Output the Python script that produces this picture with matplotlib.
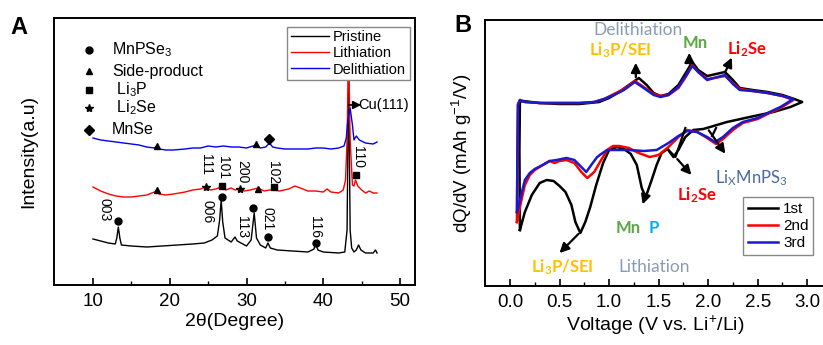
import numpy as np
import matplotlib
matplotlib.use('Agg')
import matplotlib.pyplot as plt

plt.rcParams['font.family'] = ['Liberation Sans', 'DejaVu Sans']
plt.rcParams['mathtext.default'] = 'regular'

# ---------------- Panel A: XRD ----------------
tt_pristine = [10, 11, 12, 12.9, 13.1, 13.3, 13.5, 13.7, 15, 17, 19, 21, 23, 24.5, 25.5, 26.2,
               26.5, 26.7, 26.9, 27.2, 28, 28.5, 28.8, 30, 30.6, 31.0, 31.3, 31.8, 32.5, 32.8,
               33.1, 34, 36, 38, 38.8, 39.0, 39.3, 40, 42, 42.8, 43.1, 43.3, 43.5, 43.7, 44.0,
               44.3, 44.6, 44.9, 45.5, 46.5, 46.8, 47]
I_pristine = [46, 44, 42, 41, 47, 58, 47, 40, 39, 38, 39, 40, 41, 42, 45, 49,
              65, 85, 63, 47, 43, 48, 44, 39, 45, 72, 47, 40, 37, 42,
              37, 35, 34, 33, 36, 42, 35, 33, 32, 33, 55, 215, 55, 37, 33,
              35, 40, 35, 32, 32, 35, 32]

tt_lith = [10, 11, 12, 13, 14, 15, 16, 17, 18, 18.3, 18.6, 19.5, 20.5, 22, 23, 24, 24.7, 25.3,
           26, 26.7, 27.3, 28, 28.5, 29.1, 29.7, 30.5, 31.5, 32.3, 33, 33.6, 34.3, 35.5, 36.3,
           37, 38, 39, 40, 40.5, 41, 42, 42.6, 42.9, 43.1, 43.3, 43.5, 43.8, 44.0, 44.2, 44.5,
           45, 45.5, 46, 46.5, 47]
I_lith = [98, 94, 91, 89, 88, 88, 89, 90, 93, 95, 91, 90, 91, 93, 95, 96, 98, 95,
          96, 98, 95, 97, 95, 96, 94, 95, 97, 94, 95, 95, 94, 96, 99,
          97, 94, 94, 93, 96, 93, 92, 95, 105, 145, 240, 145, 100, 99, 105, 99,
          95, 92, 94, 92, 92]

tt_delith = [10, 11, 12, 13, 14, 15, 16, 17, 18, 18.3, 18.6, 19.5, 20.5, 22, 23, 24, 25, 26, 27,
             28, 29, 30, 31.3, 31.8, 32.5, 33, 33.4, 34, 35, 36, 37, 38, 39, 40, 41, 42, 42.7,
             43.0, 43.2, 43.5, 43.8, 44.0, 44.3, 44.7, 45.5, 46.5, 47]
I_delith = [147, 145, 144, 143, 142, 141, 140, 138, 137, 139, 136, 135, 135, 136, 137, 137, 139,
            138, 139, 138, 138, 137, 140, 137, 138, 142, 138, 137, 136, 136, 136, 136, 137, 137,
            136, 137, 139, 147, 165, 177, 160, 145, 149, 145, 142, 141, 143]

# phase markers (2theta, intensity)
mnpse3_pts = [(13.3, 64), (26.75, 88), (30.9, 77), (32.75, 48), (39.0, 42)]
side_pts = [(18.3, 95), (31.5, 96), (18.4, 139), (31.2, 141)]
li3p_pts = [(26.75, 99), (33.6, 98), (44.2, 110)]
li2se_pts = [(24.7, 98), (29.1, 96)]
mnse_pts = [(32.9, 146)]

hkl_labels = ['003', '006', '113', '021', '116', '111', '101', '200', '102', '110']
hkl_x = [11.56, 24.98, 29.41, 32.67, 38.93, 24.72, 26.94, 29.41, 33.45, 44.53]
hkl_y = [75, 73, 58, 66, 58, 121, 117, 113, 112, 128]

phase_names = ['MnPSe$_3$', 'Side-product', ' Li$_3$P', ' Li$_2$Se', 'MnSe']
phase_marks = ['o', '^', 's', '*', 'D']

# ---------------- Panel B: dQ/dV ----------------
V1_ch = [0.1, 0.095, 0.1, 0.13, 0.3, 0.5, 0.7, 0.9, 1.0, 1.1, 1.2, 1.3, 1.38, 1.45, 1.52, 1.6,
         1.7, 1.78, 1.84, 1.9, 1.99, 2.08, 2.17, 2.25, 2.32, 2.45, 2.6, 2.75, 2.87, 2.95]
q1_ch = [-120, -40, 8, 9, 7, 6, 6, 8, 12, 18, 25, 32, 25, 17, 14, 16,
         25, 38, 48, 40, 34, 36, 38, 30, 22, 20, 18, 15, 11, 8]
V1_dis = [2.95, 2.83, 2.66, 2.42, 2.19, 2.02, 1.95, 1.85, 1.77, 1.7, 1.65, 1.59, 1.53, 1.48,
          1.43, 1.37, 1.33, 1.28, 1.22, 1.15, 1.08, 1.0, 0.94, 0.87, 0.81, 0.76, 0.71, 0.66,
          0.62, 0.56, 0.5, 0.44, 0.37, 0.3, 0.22, 0.15, 0.1]
q1_dis = [8, 3, -2, -7, -12, -17, -19, -20, -27, -40, -47, -39, -43, -55,
          -70, -87, -78, -55, -44, -39, -37, -40, -53, -75, -97, -112, -123, -112,
          -95, -82, -76, -71, -70, -73, -85, -102, -120]

V2_ch = [0.07, 0.075, 0.08, 0.1, 0.15, 0.3, 0.5, 0.7, 0.85, 0.95, 1.05, 1.15, 1.26, 1.35, 1.45,
         1.52, 1.6, 1.7, 1.78, 1.84, 1.9, 1.99, 2.06, 2.17, 2.25, 2.32, 2.45, 2.6, 2.75, 2.86]
q2_ch = [-112, -40, 6, 10, 8, 7, 7, 7, 8, 11, 16, 21, 29, 23, 16,
         14, 15, 22, 34, 45, 38, 31, 32, 34, 27, 21, 19, 17, 14, 10]
V2_dis = [2.86, 2.73, 2.6, 2.5, 2.35, 2.25, 2.15, 2.08, 1.99, 1.89, 1.79, 1.7, 1.6, 1.5, 1.41,
          1.3, 1.2, 1.1, 1.04, 0.98, 0.92, 0.85, 0.78, 0.72, 0.65, 0.57, 0.5, 0.45, 0.4, 0.33,
          0.25, 0.2, 0.15, 0.12, 0.09, 0.07]
q2_dis = [10, 2, -4, -9, -13, -20, -29, -34, -28, -22, -20, -27, -37, -45, -47,
          -43, -38, -36, -36, -40, -50, -62, -68, -62, -53, -50, -51, -53, -51, -55,
          -60, -65, -75, -88, -102, -112]

V3_ch = [0.07, 0.075, 0.08, 0.1, 0.15, 0.3, 0.5, 0.7, 0.85, 0.95, 1.05, 1.15, 1.26, 1.35, 1.45,
         1.52, 1.6, 1.7, 1.78, 1.84, 1.9, 1.99, 2.06, 2.17, 2.25, 2.32, 2.45, 2.6, 2.75, 2.86]
q3_ch = [-102, -40, 5, 10, 8, 7, 7, 7, 8, 11, 15, 20, 28, 22, 15,
         13, 15, 23, 35, 44, 38, 30, 32, 35, 26, 20, 19, 17, 14, 11]
V3_dis = [2.86, 2.73, 2.6, 2.5, 2.35, 2.25, 2.15, 2.07, 1.99, 1.89, 1.79, 1.7, 1.6, 1.48, 1.35,
          1.2, 1.05, 0.98, 0.92, 0.88, 0.82, 0.77, 0.72, 0.65, 0.57, 0.47, 0.4, 0.33, 0.25, 0.2,
          0.15, 0.12, 0.09, 0.07]
q3_dis = [11, 3, -3, -8, -12, -18, -27, -32, -27, -22, -21, -26, -33, -40, -41,
          -40, -40, -40, -44, -47, -55, -62, -57, -50, -48, -50, -51, -55, -59, -63,
          -70, -82, -95, -102]

cycles = ['1st', '2nd', '3rd']
cycle_colors = ['black', '#ff0000', '#1a1acc']

GOLD = '#ffc000'
GREEN = '#5aa845'
CYAN = '#00b0f0'
GREY = '#8a9bb4'
STEEL = '#4b6a9c'

fig = plt.figure(figsize=(8.23, 3.45), dpi=100)

# ---------- A ----------
ax1 = fig.add_axes([54/823, 60/345, 361/823, 267/345])
ax1.plot(tt_pristine, I_pristine, color='black', lw=1.0, label='Pristine')
ax1.plot(tt_lith, I_lith, color='#ff0000', lw=1.0, label='Lithiation')
ax1.plot(tt_delith, I_delith, color='#0000ee', lw=1.0, label='Delithiation')

ms = dict(color='black', ls='none')
ax1.plot(*zip(*mnpse3_pts), marker='o', ms=5, **ms)
ax1.plot(*zip(*side_pts), marker='^', ms=5, **ms)
ax1.plot(*zip(*li3p_pts), marker='s', ms=5, **ms)
ax1.plot(*zip(*li2se_pts), marker='*', ms=6, **ms)
ax1.plot(*zip(*mnse_pts), marker='D', ms=5, **ms)

for lab, x, y in zip(hkl_labels, hkl_x, hkl_y):
    ax1.text(x, y, lab, rotation=-90, fontsize=10, ha='center', va='center')

ax1.annotate('', xy=(45.3, 180), xytext=(42.9, 180),
             arrowprops=dict(arrowstyle='-|>', color='black', lw=1.2, mutation_scale=12))
ax1.text(44.5, 180, 'Cu(111)', fontsize=10.5, va='center', ha='left')

ky = [0.880, 0.801, 0.730, 0.663, 0.581]
for name, mk, yy in zip(phase_names, phase_marks, ky):
    ax1.plot([0.097], [yy], marker=mk, ms=6 if mk == '*' else 5, color='black',
             transform=ax1.transAxes, clip_on=False)
    ax1.text(0.161, yy, name, transform=ax1.transAxes, fontsize=11.5, va='center')

leg = ax1.legend(loc='upper right', bbox_to_anchor=(0.985, 0.968), fontsize=10.5,
                 frameon=True, fancybox=False, edgecolor='#888888', framealpha=1,
                 handlelength=2.6, handletextpad=0.3, borderpad=0.25, labelspacing=0.15,
                 borderaxespad=0)
leg.set_zorder(10)

ax1.set_xlim(4.92, 51.95)
ax1.set_ylim(0, 267)
ax1.set_xticks([10, 20, 30, 40, 50])
ax1.set_xticks([15, 25, 35, 45], minor=True)
ax1.set_yticks([])
ax1.tick_params(axis='x', which='both', direction='in', top=False, labelsize=13.5, pad=6)
ax1.tick_params(axis='x', which='major', length=5, width=1.2)
ax1.tick_params(axis='x', which='minor', length=3, width=1.0)
for s in ax1.spines.values():
    s.set_linewidth(1.4)
ax1.set_xlabel('2θ(Degree)', fontsize=14, labelpad=2)
ax1.set_ylabel('Intensity(a.u)', fontsize=14, labelpad=12)

# ---------- B ----------
ax2 = fig.add_axes([485/823, 59/345, 341/823, 266/345])
curves = [(V1_ch + V1_dis, q1_ch + q1_dis), (V2_ch + V2_dis, q2_ch + q2_dis),
          (V3_ch + V3_dis, q3_ch + q3_dis)]
for (v, q), lab, c in zip(curves, cycles, cycle_colors):
    ax2.plot(v, q, color=c, lw=1.8, label=lab)

arr = dict(arrowstyle='-|>', color='black', lw=1.6, mutation_scale=14)
# delithiation peaks
ax2.annotate('', xy=(1.27, 50), xytext=(1.27, 30), arrowprops=arr)
ax2.annotate('', xy=(1.81, 60), xytext=(1.81, 44), arrowprops=arr)
ax2.annotate('', xy=(2.25, 55), xytext=(2.16, 35), arrowprops=arr)
# lithiation peaks
ax2.annotate('', xy=(2.19, -46), xytext=(1.99, -18), arrowprops=arr)
ax2.plot([2.08, 2.04], [-18, -26], color='black', lw=1.6)
ax2.plot([1.60, 1.67, 1.77], [-40, -47, -18], color='black', lw=1.6)
ax2.annotate('', xy=(1.85, -67), xytext=(1.67, -47), arrowprops=arr)
ax2.annotate('', xy=(1.33, -97), xytext=(1.38, -82), arrowprops=arr)
ax2.annotate('', xy=(0.48, -145), xytext=(0.71, -122), arrowprops=arr)

tk = dict(family=['Lato', 'DejaVu Sans'], ha='center', va='center')
ax2.text(1.29, 80, 'Delithiation', color=GREY, fontsize=12.5, **tk)
ax2.text(1.11, 60, 'Li$_3$P/SEI', color=GOLD, fontsize=12, fontweight='bold', **tk)
ax2.text(1.87, 67, 'Mn', color=GREEN, fontsize=12, fontweight='bold', **tk)
ax2.text(2.39, 61, 'Li$_2$Se', color='#ff0000', fontsize=12, fontweight='bold', **tk)
ax2.text(2.44, -68, 'Li$_X$MnPS$_3$', color=STEEL, fontsize=12, **tk)
ax2.text(1.89, -85, 'Li$_2$Se', color='#ff0000', fontsize=12, fontweight='bold', **tk)
ax2.text(1.19, -118, 'Mn', color=GREEN, fontsize=12, fontweight='bold', **tk)
ax2.text(1.45, -118, 'P', color=CYAN, fontsize=12, fontweight='bold', **tk)
ax2.text(0.53, -157, 'Li$_3$P/SEI', color=GOLD, fontsize=12, fontweight='bold', **tk)
ax2.text(1.45, -157, 'Lithiation', color=GREY, fontsize=12.5, **tk)

ax2.legend(loc='upper right', bbox_to_anchor=(0.962, 0.333), fontsize=11,
           frameon=True, fancybox=False, edgecolor='#888888', framealpha=1,
           handlelength=2.0, handletextpad=0.3, borderpad=0.3, labelspacing=0.2,
           borderaxespad=0)

ax2.set_xlim(-0.2525, 3.19)
ax2.set_ylim(-176, 90)
ax2.set_xticks(np.arange(0, 3.01, 0.5))
ax2.set_xticks(np.arange(0.25, 3.1, 0.5), minor=True)
ax2.set_xticklabels(['%.1f' % t for t in np.arange(0, 3.01, 0.5)])
ax2.set_yticks([])
ax2.tick_params(axis='x', which='both', direction='in', top=False, labelsize=13.5, pad=6)
ax2.tick_params(axis='x', which='major', length=5, width=1.2)
ax2.tick_params(axis='x', which='minor', length=3, width=1.0)
for s in ax2.spines.values():
    s.set_linewidth(1.4)
ax2.set_xlabel('Voltage (V vs. Li$^{+}$/Li)', fontsize=14, labelpad=2)
ax2.set_ylabel('dQ/dV (mAh g$^{-1}$/V)', fontsize=13.5, labelpad=8)

fig.text(19/823, 1 - 27/345, 'A', fontsize=17, fontweight='bold', ha='center', va='center')
fig.text(463/823, 1 - 26/345, 'B', fontsize=17, fontweight='bold', ha='center', va='center')

fig.savefig('out.png', dpi=100)
